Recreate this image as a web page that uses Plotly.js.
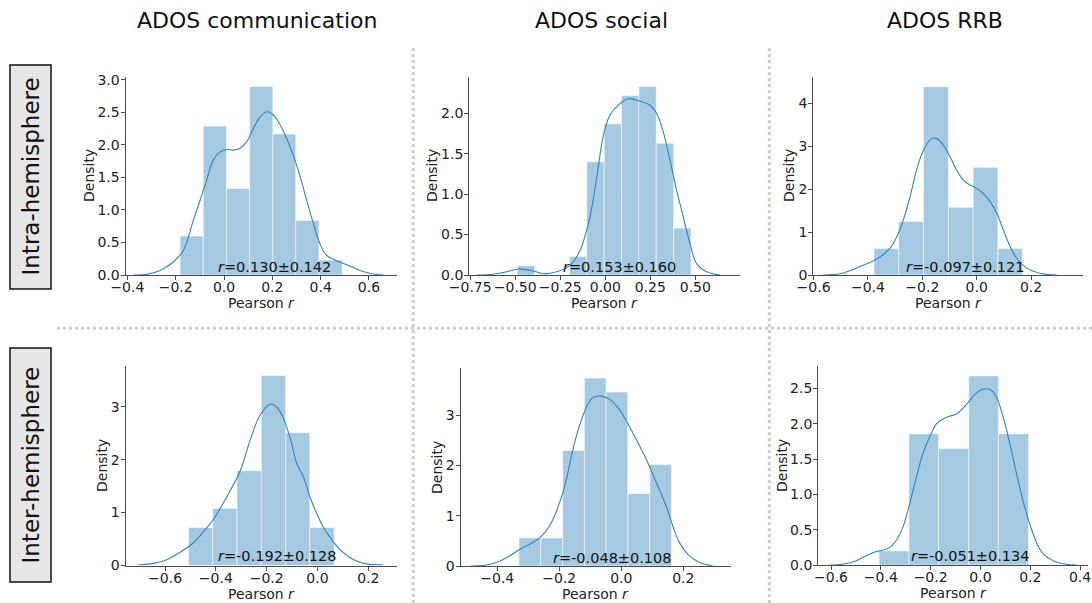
<!DOCTYPE html>
<html><head><meta charset="utf-8">
<script src="https://cdn.plot.ly/plotly-3.0.1.min.js"></script>
<style>html,body{margin:0;padding:0;background:#fff}#chart{width:1092px;height:603px}</style>
</head><body><div id="chart"></div>
<script>
// ---------------- data ----------------
const columnTitles = ["ADOS communication", "ADOS social", "ADOS RRB"];
const rowLabels = ["Intra-hemisphere", "Inter-hemisphere"];
const statLabels = ["0.130±0.142", "0.153±0.160", "-0.097±0.121",
                    "-0.192±0.128", "-0.048±0.108", "-0.051±0.134"];
const xAxisLabel = "Pearson <i>r</i>";
const yAxisLabel = "Density";

// histograms (bin edges, density)
const hist1Edges = [-0.182, -0.086, 0.010, 0.106, 0.202, 0.297, 0.393, 0.489];
const hist1Density = [0.60, 2.29, 1.33, 2.90, 2.17, 0.84, 0.23];
const hist2Edges = [-0.489, -0.392, -0.296, -0.199, -0.103, -0.006, 0.090, 0.187, 0.283, 0.380, 0.476];
const hist2Density = [0.115, 0, 0, 0.23, 1.40, 1.87, 2.22, 2.33, 1.63, 0.58];
const hist3Edges = [-0.378, -0.287, -0.196, -0.104, -0.013, 0.078, 0.169];
const hist3Density = [0.62, 1.25, 4.39, 1.58, 2.51, 0.62];
const hist4Edges = [-0.508, -0.412, -0.317, -0.221, -0.125, -0.030, 0.066];
const hist4Density = [0.72, 1.08, 1.79, 3.59, 2.51, 0.72];
const hist5Edges = [-0.330, -0.260, -0.189, -0.119, -0.049, 0.021, 0.092, 0.162];
const hist5Density = [0.56, 0.56, 2.30, 3.74, 3.46, 1.44, 2.02];
const hist6Edges = [-0.407, -0.287, -0.168, -0.047, 0.072, 0.193];
const hist6Density = [0.20, 1.86, 1.65, 2.68, 1.86];

// KDE curves
const kde1X = [-0.375, -0.320, -0.265, -0.210, -0.168, -0.127, -0.099, -0.072, -0.044, -0.017, 0.011, 0.039, 0.066, 0.094, 0.121, 0.149, 0.177, 0.204, 0.232, 0.259, 0.287, 0.314, 0.342, 0.370, 0.397, 0.425, 0.466, 0.507, 0.563, 0.618, 0.659];
const kde1Y = [0.0, 0.01, 0.07, 0.20, 0.38, 0.84, 1.15, 1.46, 1.77, 1.89, 1.93, 1.92, 1.95, 2.05, 2.25, 2.43, 2.51, 2.46, 2.31, 2.10, 1.84, 1.53, 1.15, 0.79, 0.48, 0.30, 0.22, 0.16, 0.07, 0.015, 0.0];
const kde2X = [-0.714, -0.622, -0.548, -0.483, -0.400, -0.344, -0.270, -0.196, -0.141, -0.085, -0.048, -0.011, 0.026, 0.082, 0.128, 0.193, 0.248, 0.285, 0.322, 0.359, 0.396, 0.433, 0.470, 0.507, 0.563, 0.637];
const kde2Y = [0.0, 0.01, 0.04, 0.075, 0.05, 0.015, 0.04, 0.12, 0.30, 0.72, 1.20, 1.72, 1.98, 2.12, 2.18, 2.15, 2.10, 2.00, 1.77, 1.42, 1.05, 0.72, 0.39, 0.14, 0.04, 0.0];
const kde3X = [-0.565, -0.503, -0.466, -0.417, -0.368, -0.319, -0.294, -0.270, -0.245, -0.221, -0.196, -0.166, -0.147, -0.123, -0.098, -0.074, -0.049, -0.025, 0.0, 0.025, 0.049, 0.074, 0.098, 0.123, 0.147, 0.184, 0.233, 0.294];
const kde3Y = [0.0, 0.03, 0.10, 0.23, 0.37, 0.62, 0.89, 1.28, 1.83, 2.45, 2.91, 3.18, 3.18, 3.03, 2.76, 2.45, 2.21, 2.10, 2.02, 1.90, 1.71, 1.44, 1.05, 0.66, 0.39, 0.16, 0.04, 0.0];
const kde4X = [-0.705, -0.646, -0.593, -0.541, -0.488, -0.435, -0.409, -0.383, -0.344, -0.304, -0.265, -0.226, -0.186, -0.160, -0.134, -0.107, -0.081, -0.055, -0.029, -0.002, 0.024, 0.050, 0.089, 0.142, 0.194, 0.260];
const kde4Y = [0.01, 0.04, 0.11, 0.25, 0.43, 0.72, 0.875, 1.08, 1.41, 1.79, 2.37, 2.84, 3.05, 2.99, 2.78, 2.40, 1.92, 1.67, 1.29, 0.97, 0.72, 0.53, 0.30, 0.11, 0.03, 0.01];
const kde5X = [-0.484, -0.446, -0.403, -0.360, -0.328, -0.296, -0.263, -0.231, -0.199, -0.177, -0.156, -0.135, -0.113, -0.092, -0.065, -0.038, -0.011, 0.016, 0.048, 0.081, 0.113, 0.145, 0.166, 0.188, 0.220, 0.253, 0.295];
const kde5Y = [0.0, 0.01, 0.07, 0.20, 0.33, 0.43, 0.56, 0.80, 1.26, 1.73, 2.32, 2.79, 3.15, 3.35, 3.38, 3.32, 3.15, 2.89, 2.52, 2.12, 1.66, 1.19, 0.80, 0.46, 0.20, 0.07, 0.0];
const kde6X = [-0.605, -0.552, -0.498, -0.458, -0.418, -0.391, -0.364, -0.337, -0.311, -0.284, -0.257, -0.231, -0.204, -0.177, -0.150, -0.123, -0.096, -0.070, -0.043, -0.016, 0.010, 0.037, 0.064, 0.091, 0.118, 0.145, 0.171, 0.198, 0.225, 0.251, 0.292, 0.345, 0.386];
const kde6Y = [0.0, 0.01, 0.06, 0.13, 0.19, 0.21, 0.25, 0.35, 0.54, 0.87, 1.25, 1.58, 1.81, 2.00, 2.07, 2.11, 2.14, 2.22, 2.33, 2.44, 2.49, 2.49, 2.38, 2.10, 1.72, 1.29, 0.91, 0.58, 0.32, 0.16, 0.06, 0.01, 0.0];

// ticks
const xTicks1 = [-0.4, -0.2, 0.0, 0.2, 0.4, 0.6];
const xTicks2 = [-0.75, -0.50, -0.25, 0.00, 0.25, 0.50];
const xTicks3 = [-0.6, -0.4, -0.2, 0.0, 0.2];
const xTicks4 = [-0.6, -0.4, -0.2, 0.0, 0.2];
const xTicks5 = [-0.4, -0.2, 0.0, 0.2];
const xTicks6 = [-0.6, -0.4, -0.2, 0.0, 0.2, 0.4];
const yTicks1 = [0, 0.5, 1.0, 1.5, 2.0, 2.5, 3.0];
const yTicks2 = [0, 0.5, 1.0, 1.5, 2.0];
const yTicks3 = [0, 1, 2, 3, 4];
const yTicks4 = [0, 1, 2, 3];
const yTicks5 = [0, 1, 2, 3];
const yTicks6 = [0, 0.5, 1.0, 1.5, 2.0, 2.5];

// ---------------- layout geometry (pixels) ----------------
const W = 1092, H = 603;
const panels = [
  {edges: hist1Edges, dens: hist1Density, kx: kde1X, ky: kde1Y, xt: xTicks1, yt: yTicks1, xf: '.1f', yf: '.1f',
   box: [125.7, 397, 77.3, 275], xr: [-0.407, 0.716], yr: [0, 3.04], stat: [216, 267]},
  {edges: hist2Edges, dens: hist2Density, kx: kde2X, ky: kde2Y, xt: xTicks2, yt: yTicks2, xf: '.2f', yf: '.1f',
   box: [469.3, 740, 77.3, 275], xr: [-0.755, 0.748], yr: [0, 2.445], stat: [561, 267]},
  {edges: hist3Edges, dens: hist3Density, kx: kde3X, ky: kde3Y, xt: xTicks3, yt: yTicks3, xf: '.1f', yf: 'd',
   box: [813.3, 1083.3, 77.3, 275], xr: [-0.601, 0.392], yr: [0, 4.61], stat: [904, 267]},
  {edges: hist4Edges, dens: hist4Density, kx: kde4X, ky: kde4Y, xt: xTicks4, yt: yTicks4, xf: '.1f', yf: 'd',
   box: [125.7, 396.7, 366, 565.5], xr: [-0.755, 0.312], yr: [0, 3.77], stat: [216, 556]},
  {edges: hist5Edges, dens: hist5Density, kx: kde5X, ky: kde5Y, xt: xTicks5, yt: yTicks5, xf: '.1f', yf: 'd',
   box: [460.7, 730.7, 368, 566], xr: [-0.518, 0.353], yr: [0, 3.94], stat: [551, 558]},
  {edges: hist6Edges, dens: hist6Density, kx: kde6X, ky: kde6Y, xt: xTicks6, yt: yTicks6, xf: '.1f', yf: '.1f',
   box: [818.3, 1088.3, 366, 565], xr: [-0.651, 0.433], yr: [0, 2.82], stat: [909, 556]}
];

const FONT = "DejaVu Sans, Liberation Sans, sans-serif";
const AX = '#4a4a4a';
const px = v => v / W;
const py = v => 1 - v / H;

const traces = [];
const layout = {
  width: W, height: H,
  margin: {l: 0, r: 0, t: 0, b: 0},
  paper_bgcolor: '#fff', plot_bgcolor: 'rgba(0,0,0,0)',
  showlegend: false,
  font: {family: FONT, color: '#222'},
  annotations: [], shapes: []
};

panels.forEach((p, i) => {
  const n = i + 1;
  const xa = n === 1 ? 'x' : 'x' + n;
  const ya = n === 1 ? 'y' : 'y' + n;
  const centers = p.dens.map((_, k) => (p.edges[k] + p.edges[k + 1]) / 2);
  const widths = p.dens.map((_, k) => p.edges[k + 1] - p.edges[k]);
  traces.push({
    type: 'bar', x: centers, y: p.dens, width: widths, xaxis: xa, yaxis: ya,
    marker: {color: 'rgba(31,119,180,0.4)', line: {color: 'rgba(255,255,255,0.55)', width: 1}},
    hoverinfo: 'skip'
  });
  traces.push({
    type: 'scatter', mode: 'lines', x: p.kx, y: p.ky, xaxis: xa, yaxis: ya,
    line: {color: '#3582be', width: 1.1, shape: 'spline', smoothing: 1},
    hoverinfo: 'skip', cliponaxis: false
  });
  const [l, r, t, b] = p.box;
  const common = {
    showgrid: false, zeroline: false, showline: true, linecolor: AX, linewidth: 1.2,
    ticks: 'outside', ticklen: 4, tickwidth: 1, tickcolor: AX,
    tickfont: {family: FONT, size: 14, color: '#222'}, fixedrange: true
  };
  layout['xaxis' + (n === 1 ? '' : n)] = Object.assign({}, common, {
    domain: [px(l), px(r)], range: p.xr, tickvals: p.xt, tickformat: p.xf,
    anchor: ya, ticklabelstandoff: -5, tickangle: 0
  });
  layout['yaxis' + (n === 1 ? '' : n)] = Object.assign({}, common, {
    domain: [py(b), py(t)], range: p.yr, tickvals: p.yt, tickformat: p.yf,
    anchor: xa, ticklabelstandoff: -2
  });
  // stat text
  layout.annotations.push({
    xref: 'paper', yref: 'paper', x: px(p.stat[0]), y: py(p.stat[1]),
    xanchor: 'left', yanchor: 'middle', showarrow: false,
    text: '<i>r</i>=' + statLabels[i], font: {family: FONT, size: 14.5, color: '#111'}
  });
  // axis titles
  layout.annotations.push({
    xref: 'paper', yref: 'paper', x: px((l + r) / 2), y: py(b + 28),
    xanchor: 'center', yanchor: 'middle', showarrow: false,
    text: xAxisLabel, font: {family: FONT, size: 14, color: '#222'}
  });
});

// Density labels (positions measured)
const densityPos = [[89, 176], [432, 176], [789, 176], [102, 466], [437, 468], [782, 466]];
densityPos.forEach(d => layout.annotations.push({
  xref: 'paper', yref: 'paper', x: px(d[0]), y: py(d[1]), textangle: -90,
  xanchor: 'center', yanchor: 'middle', showarrow: false,
  text: yAxisLabel, font: {family: FONT, size: 14, color: '#222'}
}));

// column titles
const titleX = [257, 601, 945];
columnTitles.forEach((t, k) => layout.annotations.push({
  xref: 'paper', yref: 'paper', x: px(titleX[k]), y: py(21),
  xanchor: 'center', yanchor: 'middle', showarrow: false,
  text: t, font: {family: FONT, size: 22, color: '#111'}
}));

// row labels in boxes
const rowBox = [[65, 289], [348, 582]];
rowLabels.forEach((t, k) => {
  const [t0, b0] = rowBox[k];
  layout.shapes.push({
    type: 'rect', xref: 'paper', yref: 'paper', x0: px(10), x1: px(51), y0: py(b0), y1: py(t0),
    fillcolor: '#e6e6e6', line: {color: '#111', width: 1.5}
  });
  layout.annotations.push({
    xref: 'paper', yref: 'paper', x: px(30.5), y: py((t0 + b0) / 2), textangle: -90,
    xanchor: 'center', yanchor: 'middle', showarrow: false,
    text: t, font: {family: FONT, size: 23, color: '#111'}
  });
});

// dotted separators
const sep = {color: '#cccccc', width: 3, dash: 'dot'};
layout.shapes.push({type: 'line', xref: 'paper', yref: 'paper', x0: px(413.3), x1: px(413.3), y0: py(603), y1: py(45), line: sep});
layout.shapes.push({type: 'line', xref: 'paper', yref: 'paper', x0: px(769.3), x1: px(769.3), y0: py(603), y1: py(45), line: sep});
layout.shapes.push({type: 'line', xref: 'paper', yref: 'paper', x0: px(57), x1: px(1092), y0: py(328.3), y1: py(328.3), line: sep});

Plotly.newPlot('chart', traces, layout, {staticPlot: true, displayModeBar: false});
</script>
</body></html>
